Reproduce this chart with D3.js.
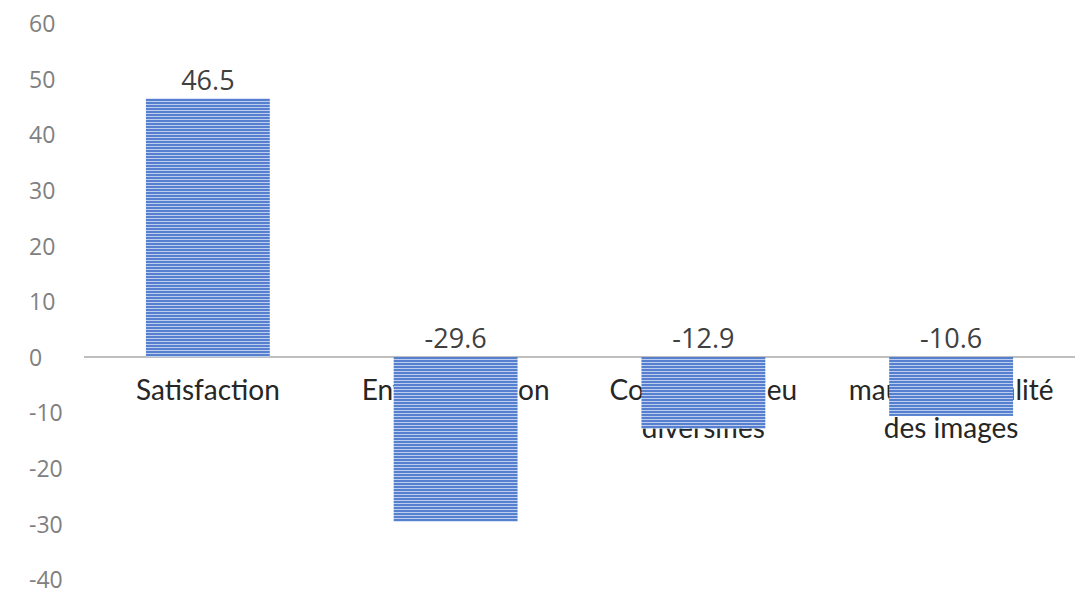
<!DOCTYPE html>
<html>
  <head>
  <meta charset="utf-8">
  <title>Bars</title>
  <style>
    body, html { margin: 0; padding: 0; background: #fff; }
  </style>
  </head>
  <body>
  <svg id="svg" width="1088" height="605"></svg>
  <script src="https://d3js.org/d3.v7.min.js"></script>
  <script>
    const categories = [
      ["Satisfaction"],
      ["Envie d'évasion"],
      ["Contenu de jeu", "diversifiés"],
      ["mauvaise qualité", "des images"]
    ]
    const values = [46.5, -29.6, -12.9, -10.6]
    const tickValues = [60, 50, 40, 30, 20, 10, 0, -10, -20, -30, -40]

    const svg = d3.select('#svg')

    const defs = svg.append('defs')
    const pat = defs.append('pattern')
        .attr('id', 'stripes')
        .attr('patternUnits', 'userSpaceOnUse')
        .attr('width', 8)
        .attr('height', 3)
    pat.append('rect').attr('width', 8).attr('height', 3).attr('fill', '#bccdee')
    pat.append('rect').attr('width', 8).attr('height', 2).attr('fill', '#5680cf')

    const x = d3.scaleBand()
        .domain(d3.range(values.length))
        .range([84, 1075])
        .paddingInner(0.5)
        .paddingOuter(0.25)
    const y = d3.scaleLinear()
        .domain([-40, 60])
        .range([579.4, 23.4])

    // y axis labels, left aligned like the original
    const yAxis = d3.axisLeft(y).tickValues(tickValues).tickSize(0).tickPadding(0)
        .tickFormat(d => String(d))
    const gy = svg.append('g')
        .attr('transform', 'translate(29,1)')
        .call(yAxis)
    gy.select('.domain').remove()
    gy.selectAll('text')
        .attr('text-anchor', 'start')
        .attr('font-family', 'Open Sans')
        .attr('font-size', 23)
        .attr('fill', '#808080')

    // category labels (drawn under the bars)
    const cat = svg.append('g').selectAll('text')
        .data(categories)
        .join('text')
        .attr('x', (d, i) => x(i) + x.bandwidth() / 2)
        .attr('y', 400)
        .attr('text-anchor', 'middle')
        .attr('font-family', 'Lato')
        .attr('font-size', 28)
        .attr('fill', '#262626')
    cat.selectAll('tspan')
        .data(d => d)
        .join('tspan')
        .attr('x', function () { return this.parentNode.getAttribute('x') })
        .attr('dy', (d, i) => i === 0 ? 0 : 38)
        .text(d => d)

    // zero line
    svg.append('line')
        .attr('x1', 84).attr('x2', 1075)
        .attr('y1', y(0)).attr('y2', y(0))
        .attr('stroke', '#bfbfbf')
        .attr('stroke-width', 2)

    // bars
    svg.append('g').selectAll('rect')
        .data(values)
        .join('rect')
        .attr('x', (d, i) => x(i))
        .attr('width', x.bandwidth())
        .attr('y', d => y(Math.max(0, d)))
        .attr('height', d => Math.abs(y(d) - y(0)))
        .attr('fill', 'url(#stripes)')

    // value labels
    svg.append('g').selectAll('text')
        .data(values)
        .join('text')
        .attr('x', (d, i) => x(i) + x.bandwidth() / 2)
        .attr('y', d => d > 0 ? y(d) - 8 : y(0) - 9)
        .attr('text-anchor', 'middle')
        .attr('font-family', 'Open Sans')
        .attr('font-size', 27)
        .attr('fill', '#404040')
        .text(d => d.toFixed(1))
  </script>
</body>
</html>
